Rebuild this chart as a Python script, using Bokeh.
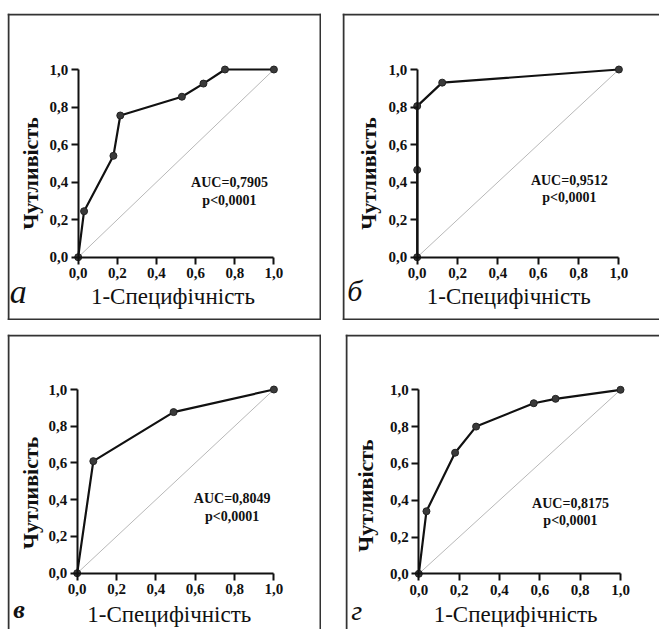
import math
from bokeh.plotting import figure
from bokeh.models import FixedTicker, Label, Range1d, Span
from bokeh.layouts import column, row
from bokeh.embed import file_html
from bokeh.resources import INLINE

# ---------------- data ----------------
tick_values = [0.0, 0.2, 0.4, 0.6, 0.8, 1.0]
tick_labels = ["0,0", "0,2", "0,4", "0,6", "0,8", "1,0"]
x_title = "1-Специфічність"
y_title = "Чутливість"

a_fpr = [0.0, 0.03, 0.18, 0.215, 0.53, 0.64, 0.75, 1.0]
a_tpr = [0.0, 0.245, 0.54, 0.755, 0.855, 0.925, 1.0, 1.0]
b_fpr = [0.0, 0.0, 0.0, 0.124, 1.0]
b_tpr = [0.0, 0.465, 0.805, 0.93, 1.0]
c_fpr = [0.0, 0.082, 0.49, 1.0]
c_tpr = [0.0, 0.61, 0.877, 1.0]
d_fpr = [0.0, 0.038, 0.18, 0.284, 0.57, 0.678, 1.0]
d_tpr = [0.0, 0.34, 0.658, 0.80, 0.927, 0.951, 1.0]

panel_letters = ["а", "б", "в", "г"]
auc_texts = ["AUC=0,7905", "AUC=0,9512", "AUC=0,8049", "AUC=0,8175"]
p_texts = ["p<0,0001", "p<0,0001", "p<0,0001", "p<0,0001"]

SERIF = "Liberation Serif"
INK = "#111111"
BORDER = "#333333"


def make_panel(fpr, tpr, auc, ptxt, letter, cfg):
    hx, hy, W, H = cfg["host"]
    X0, SX, Y0, SY = cfg["map"]

    def dx(px):
        return (px - X0) / SX

    def dy(py):
        return (Y0 - py) / SY

    xr = Range1d(dx(hx), dx(hx + W))
    yr = Range1d(dy(hy + H), dy(hy))
    p = figure(width=W, height=H, output_backend="svg", toolbar_location=None,
               x_range=xr, y_range=yr,
               min_border_left=0, min_border_right=0,
               min_border_top=0, min_border_bottom=0,
               margin=cfg["margin"])
    p.outline_line_color = None
    p.xgrid.visible = False
    p.ygrid.visible = False
    p.background_fill_color = "white"
    p.border_fill_color = "white"

    # panel frame: only the sides that are visible in the source figure
    bl, bt, br, bb = cfg["box"]
    for loc, dim in ((bl, "height"), (br, "height"), (bt, "width"), (bb, "width")):
        if loc is None:
            continue
        val = dx(loc) if dim == "height" else dy(loc)
        p.add_layout(Span(location=val, dimension=dim, line_color=BORDER,
                          line_width=2, line_alpha=1.0))

    for ax in (p.xaxis, p.yaxis):
        ax.fixed_location = 0
        ax.bounds = (0, 1)
        ax.ticker = FixedTicker(ticks=tick_values)
        ax.major_label_overrides = dict(zip(tick_values, tick_labels))
        ax.axis_line_width = 2
        ax.axis_line_color = INK
        ax.major_tick_line_width = 2
        ax.major_tick_line_color = INK
        ax.major_tick_in = 0
        ax.major_tick_out = 7
        ax.minor_tick_line_color = None
        ax.major_label_text_font = SERIF
        ax.major_label_text_font_style = "bold"
        ax.major_label_text_font_size = "15px"
        ax.major_label_text_color = INK
    p.xaxis.major_label_standoff = 4
    p.yaxis.major_label_standoff = 3

    # chance diagonal
    p.line([0, 1], [0, 1], line_color="#b8b8b8", line_width=1)
    # ROC curve
    p.line(fpr, tpr, line_color=INK, line_width=2.2)
    p.scatter(fpr, tpr, size=7, fill_color="#3a3a3a", line_color="#222222", line_width=1)

    ax_, ay1, ay2 = cfg["auc"]
    for yy, t in ((ay1, auc), (ay2, ptxt)):
        p.add_layout(Label(x=ax_, y=yy, text=t, text_align="center",
                           text_baseline="middle", text_font=SERIF, text_font_style="bold",
                           text_font_size="14px", text_color=INK))
    xt = cfg["xtitle"]
    p.add_layout(Label(x=xt[0], y=xt[1], text=x_title, text_align="center",
                       text_baseline="middle", text_font=SERIF,
                       text_font_size="23px", text_color=INK))
    yt = cfg["ytitle"]
    p.add_layout(Label(x=yt[0], y=yt[1], text=y_title, text_align="center",
                       text_baseline="middle", angle=math.pi / 2, text_font=SERIF,
                       text_font_style="bold", text_font_size="22px", text_color=INK))
    lt = cfg["letter"]
    p.add_layout(Label(x=lt[0], y=lt[1], text=letter, text_align="left",
                       text_baseline="middle", text_font=SERIF,
                       text_font_style=lt[3], text_font_size=lt[2],
                       text_color=INK))
    return p


cfg_a = dict(host=(7, 13, 314, 307), map=(77.7, 195.7, 256.7, 187.7), margin=(13, 0, 0, 7),
             box=(8, 14, 320, 319),
             auc=(0.773, 0.398, 0.302), xtitle=(0.484, -0.209), ytitle=(-0.244, 0.446),
             letter=(-0.35, -0.183, "34px", "italic"))
cfg_b = dict(host=(342, 13, 317, 307), map=(416.7, 201.7, 256.7, 187.7), margin=(13, 0, 0, 21),
             box=(343, 14, None, 319),
             auc=(0.754, 0.409, 0.32), xtitle=(0.454, -0.209), ytitle=(-0.243, 0.446),
             letter=(-0.347, -0.177, "30px", "italic"))
cfg_c = dict(host=(7, 334, 314, 295), map=(76.7, 196.7, 572.7, 183.7), margin=(14, 0, 0, 7),
             box=(8, 335, 320, None),
             auc=(0.788, 0.408, 0.31), xtitle=(0.468, -0.224), ytitle=(-0.238, 0.437),
             letter=(-0.325, -0.199, "26px", "bold italic"))
cfg_d = dict(host=(345, 334, 314, 295), map=(418.3, 201.7, 573.3, 184.0), margin=(14, 0, 0, 24),
             box=(346, 335, None, None),
             auc=(0.752, 0.384, 0.29), xtitle=(0.48, -0.221), ytitle=(-0.263, 0.425),
             letter=(-0.335, -0.202, "28px", "italic"))

pa = make_panel(a_fpr, a_tpr, auc_texts[0], p_texts[0], panel_letters[0], cfg_a)
pb = make_panel(b_fpr, b_tpr, auc_texts[1], p_texts[1], panel_letters[1], cfg_b)
pc = make_panel(c_fpr, c_tpr, auc_texts[2], p_texts[2], panel_letters[2], cfg_c)
pd_ = make_panel(d_fpr, d_tpr, auc_texts[3], p_texts[3], panel_letters[3], cfg_d)

layout = column(row(pa, pb), row(pc, pd_))
open("out.html", "w").write(file_html(layout, INLINE))
